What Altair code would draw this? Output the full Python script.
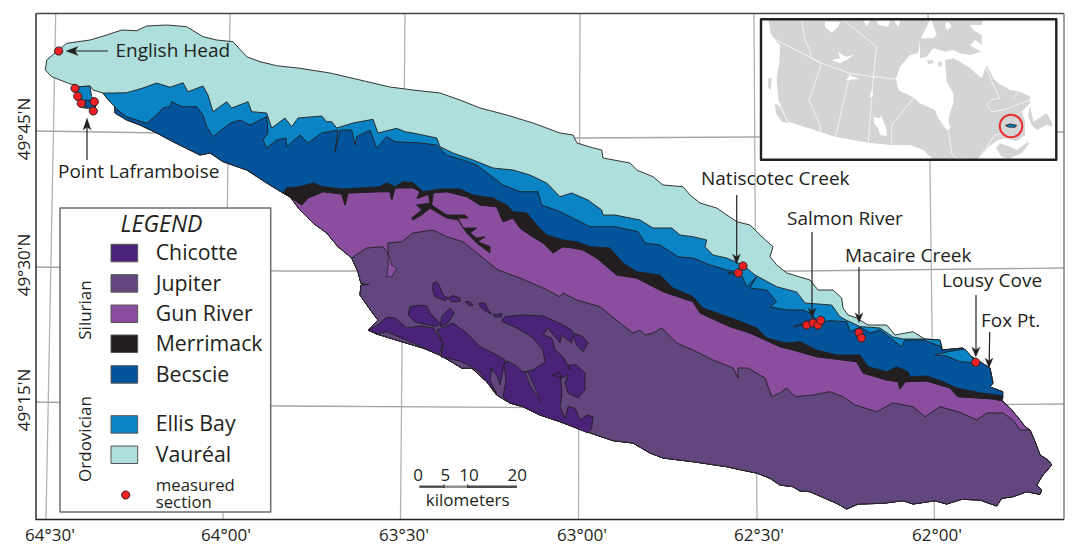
import altair as alt

FONT = "Open Sans"
INK = "#231f20"

# ---------- geology boundaries (map units) ----------
NORTH_COAST = [(45.3,70),(46.7,60),(55,53),(66.7,43.3),(90,40),(106.7,35),(121.7,30),(136.7,30.7),(146.7,26),(166.7,25),(186.7,26.7),(203,36.7),(216.7,40),(233,41.7),(246.7,56.7),(260,61.7),(276.7,65.7),(300,68.3),(330,73),(360,80),(390,87),(413,90),(440,93),(460,100),(480,108),(506.7,115),(533,123),(560,133),(573,135),(577,143),(590,147),(601.7,150),(603,158),(630,163),(636.7,170),(653,176.7),(663,185),(683,186.7),(690,195),(700,203),(716.7,208),(736.7,221.7),(750,225),(760,235),(773,246.7),(770,256.7),(776.7,265),(786.7,273),(810,280),(818,290),(833,290),(841.7,298),(843,308),(848,315),(856.7,318),(868,325),(886.7,325),(895,335),(913,331.7),(923,338)]
NE1 = [(925,339),(940,340),(941.7,347)]
NE2 = [(941.7,350),(963,348),(971.7,356.7),(990,368),(993,383),(990,387),(1002.7,391.7),(1002.7,398),(1001.7,400)]
SOUTH_1A = [(1010,408),(1020,420),(1025,426.7)]
SOUTH_1B = [(1030,430),(1035,441.7),(1040,455),(1048,460),(1051.7,465),(1043,475),(1036.7,485),(1041.7,490),(1040,494.3),(1026.7,491.7),(1013,496.7),(1001.7,498.3),(996.7,506),(980,500),(961.7,499.3),(946.7,504),(935,500.7),(913,504),(903,500.7),(883,503.3),(858,504),(846.7,509),(836.7,503.3),(825,498.3),(810,491.7),(800,491),(793,486.7),(780,485),(770,478.3),(756.7,473),(741.7,470),(726.7,466.7),(693,461.7),(663,458),(650,453),(633,443),(613,440.7),(586.7,431.7),(560,421.7),(540,415),(523,406.7),(510,403),(496.7,395),(486.7,381.7),(471.7,368),(461.7,368),(440,355),(423,348),(401.7,341.7),(376.7,334),(368,330),(378,320),(371.7,311.7),(360,295),(361,285),(369,284.5),(361,283.5),(358,271.7),(351.7,258)]
SOUTH_1C = [(338,246.7),(326.7,233),(313,223),(300,210),(290,196.7),(283,193)]
SOUTH_2 = [(266.7,183),(246.7,170),(223,161.7),(210,153),(200,155),(173,141.7),(156.7,133),(140,125),(126.7,120),(115,113),(115,107)]
SOUTH_3 = [(106.7,98),(103,93),(93,90),(90,86),(80,86.7),(68.3,83.3),(51.7,76.7)]

VAUREAL_ELLIS = [(103,93),(113,93),(126.7,92.7),(143,88),(156.7,83),(170,87.3),(183,82.7),(188,91.7),(203,86),(208,95),(213,111.7),(226.7,101.7),(231.7,108),(248,101.7),(251.7,111.7),(266.7,113),(271.7,128),(285,118),(291.7,126.7),(298,118),(321.7,116),(326.7,121.7),(331.7,121.7),(336.7,128),(353,123),(373,119.3),(378,133),(396.7,128.3),(405,131.7),(413,133),(436.7,138),(440,146.7),(453,153),(473,160),(493,168),(513,170),(530,175),(546.7,183),(560,196.7),(571.7,193),(588,200),(601.7,210),(603,215),(615,215),(640,220),(653,228),(671.7,228),(680,235),(693,236.7),(706.7,240),(705,246.7),(713,255),(726.7,258),(743,265),(755,275),(776.7,286.7),(796.7,292),(805,303),(831.7,305),(840,316.7),(846,320),(860,326.5),(880,328),(893,337),(903,339),(923,339)]
ELLIS_BECSCIE = [(115,108),(126.7,116.7),(146.7,123.3),(156.7,115),(163,108),(170,106.7),(171.7,101.7),(181.7,106.7),(196.7,106.7),(203,115),(206.7,126.7),(213,136.7),(230,123.3),(240,120),(250,125),(266.7,116.7),(268,133),(263,140),(266.7,148),(276.7,140),(286,138),(286.7,146.7),(300,135),(308,143),(321.7,133),(338,130),(335,151.7),(340,130),(351.7,130),(355,145),(356.7,136.7),(370,130),(376.7,148),(386.7,136.7),(395,141.7),(420,143),(436.7,145),(446.7,155),(463,160),(476.7,165),(490,175),(503,185),(520,191.7),(538,191.7),(541.7,205),(560,211.7),(573,218),(590,226.7),(615,226.7),(638,231.7),(645,243),(660,245),(678,256.7),(693,258),(710,265),(726.7,270),(740,272),(728,273),(742,276),(746.7,286.7),(756.7,276.7),(750,288),(766.7,290),(776.7,301.7),(770,306.7),(786.7,310),(803,310),(810,313),(816.7,320),(805,323),(793,326.7),(816,323),(830,320.7),(846.7,321.7),(850,331.7),(860,327),(870,333),(880,330),(893,340),(901.7,346.7),(905,340),(923,340),(941.7,346.7)]
MERRIMACK_TOP = [(283,193),(286.7,188),(300,186.7),(313,183),(323,186.7),(343,189),(380,186.7),(386.7,183),(395,186.7),(403,181.7),(413,182.7),(423,191.7),(440,189),(460,189),(473,195),(493,198),(506.7,205),(513,211.7),(526.7,213),(536.7,225),(546.7,235),(563,240),(576.7,241.7),(590,246.7),(610,248),(623,263),(636.7,271.7),(660,275),(673,288),(693,296.7),(703,308),(736.7,320),(756.7,328),(766.7,338),(786.7,343),(800,341.7),(816.7,350),(836.7,355),(860,355),(868,366.7),(886.7,371.7),(896.7,367),(908,371.7),(910,376.7),(926.7,376),(943,381.7),(956.7,388),(980,392.7),(1001.7,395.7)]
MERRIMACK_BASE = [(286.7,195),(301.7,205),(308,198),(323,191.7),(341.7,194),(345,205),(348,193),(380,191.7),(390,191.7),(391.7,200),(395,188),(413,187.7),(420,191.7),(417.3,198.3),(431.7,193),(446.7,191.7),(466.7,196.7),(480,205),(496.7,206.7),(503,221.7),(513,218),(520,228),(530,235),(543,243),(553,253),(563,246.7),(573,248),(583,250),(596.7,258),(616.7,275),(636.7,278),(663,291.7),(693,301.7),(700,313),(730,326.7),(750,333),(780,346.7),(793,350),(816.7,356.7),(856.7,361.7),(863,373),(886.7,380),(898,381.7),(900,389),(905,381.7),(926.7,381),(950,388),(958,396.7),(993,399),(1001.7,400.7)]
MERRIMACK_BRANCH = [(433.3,193.3),(431.7,205),(446.7,215),(465,215),(468,218),(458,218),(463,228),(476.7,228),(470,233),(476.7,238),(485,236.7),(478,241.7),(490,246.7),(490,253),(476.7,243),(466.7,233),(458,220),(446.7,218),(430,208.3),(421.7,215),(413,220),(411.7,218),(421.7,210),(416.7,205),(430,203),(428,193)]
JUPITER_TOP = [(351.7,258),(366.7,248),(383,246.7),(388,253),(388,243),(401.7,241.7),(413,233),(433,230),(446.7,236.7),(463,241.7),(483,258),(498,270),(520,278),(543,288),(560,296.7),(563,293),(576.7,300),(600,306.7),(620,323),(633,333),(640,330),(645,335),(653,333),(661.7,328),(676.7,343),(693,350),(713,360),(733,368),(738,378),(738,368),(748,368),(765,378),(771.7,396.7),(780,393),(786.7,388),(795,396.7),(813,395),(830,391.7),(843,396.7),(855,405),(876.7,411.7),(893,403),(913,406.7),(925,416.7),(940,406.7),(961.7,413),(976.7,420),(986.7,413),(1003,413),(1013,420),(1020,430)]
GUN_INLET = [(388,253),(391.7,265),(396.7,268.3),(391.7,276.7),(386.7,276.7),(388.3,265)]
ELLIS_EAST = [(935,355),(948,351.7),(965,349),(971.7,356.7),(976.7,363),(960,361.7),(946.7,356)]
ELLIS_POINT = [(75,88),(80,86.7),(90,86),(91.7,96.7),(96.7,103),(95,108),(83,108),(78,100)]
BECSCIE_POINT = [(85,100),(90,100),(96,105),(95,108),(86,108)]

CHICOTTE = [
 [(368,330),(378,325),(386.7,317.3),(395,318),(406.7,328),(420,326),(434,328),(435,331),(443,343),(439,355),(413.3,343),(386.7,331.7),(378,334)],
 [(436.7,330),(453,323),(466.7,333),(480,346.7),(493,353),(505,360),(502.7,371.7),(500,385),(497,376),(491.7,368.3),(490,380),(496.7,394),(486,381),(480,372),(472,367),(460,361),(441,357),(443,343)],
 [(501.7,320),(505,316.7),(523,315),(543,316),(560,323.3),(571.7,330),(573,333),(583,336.7),(588,343),(583,351.7),(576.7,345),(573,335),(571.7,343),(561.7,335),(560,343),(548,328),(543,335),(551.7,338),(555,350),(563,356.7),(570,370),(568,365),(576.7,365),(585,373),(585,390),(578,398),(568,393),(565,383),(568,375),(561.7,378),(551.7,375),(560,372),(561.7,386.7),(561.7,396.7),(560,406.7),(565,418),(568,406.7),(575,408),(580,420),(586.7,415),(593,416.7),(591.7,428),(588,433),(560,421.7),(540,415),(523,406.7),(510,403),(503,397),(506,380),(504,364),(506.7,361),(515,365),(523,372),(533,370),(545,362),(543,350),(533,338),(517,328),(503,322)],
 [(433,283),(436.7,281.7),(439,285),(443,295),(448,298),(445,300.7),(435,296.7),(432.7,290)],
 [(447.7,298),(453,295.7),(460,298),(460,301.7),(451.7,301.7)],
 [(465,301.7),(470,301.7),(473,305),(470,306)],
 [(479,303),(485,303),(488,310),(491.7,314),(486.7,311.7),(480,306.7)],
 [(493,315),(501.7,313.3),(501.7,316.7),(495,317.3)],
 [(410,306.7),(420,305),(426.7,306),(430,313),(440,323.3),(436.7,326.7),(423,324),(415,321.7),(408,315)],
 [(441.7,316.7),(450,308),(454,313),(448,323),(440,326.7)],
]
JUPITER_INLET = [(525,372),(530,385),(541,402),(535,388),(528,372)]

# ---------- graticule ----------
MERIDIANS = [[(55.7,14),(46,519)],[(230,14),(223,519)],[(405,14),(400.5,519)],[(580,14),(578.5,519)],[(754,14),(757,519)],[(928,14),(934.5,519)]]
PARALLELS = [[(36,131),(230,134),(580,138),(755,137),(1064,132)],[(36,267),(280,271),(800,271),(1064,268)],[(36,402),(280,406),(600,408),(1064,404)]]
FRAME_DARK = [[(36,13.5),(36,519.5),(1064,519.5)]]
FRAME_TOP = [[(36,13.5),(1064,13.5)]]
FRAME_RIGHT = [[(1064,13.5),(1064,519.5)]]

# ---------- legend ----------
LEGEND_BOX = [(60,208),(270.7,208),(270.7,512),(60,512)]
UNITS = ["Chicotte","Jupiter","Gun River","Merrimack","Becscie","Ellis Bay","Vauréal"]
UNIT_COLORS = ["#4a2378","#61477d","#8b4e9e","#231f20","#03549b","#0a84c4","#aedfdc"]
UNIT_TOPS = [244.3,274.7,305,335,365.7,415.7,446]
UNIT_BASE = [260,290.7,320.7,351,381.7,431,461.7]
SWATCH_W, SWATCH_H = 26.7, 17.5

# ---------- sections ----------
SECTION_X = [58.7,75,77.7,81.3,94.3,93.3,743,738.3,806.7,813,818,820.7,859,861.3,975.7,125.7]
SECTION_Y = [51,88.3,96.3,103.3,101.7,111,266,273,325,323,325,320.3,332.7,338,362.3,495]

ARROW_LINES = [[(108,51),(72,51)],[(87,160),(87,125)],[(736.7,195),(736.7,258)],[(812,232),(812,312)],[(859,267),(859,317)],[(976,295),(976,350)],[(989.7,332),(989.2,362)]]
ARROW_HEADS = [
 [(66,51),(78,46.5),(75,51),(78,55.5)],
 [(87,118),(91,130),(87,127),(83,130)],
 [(736.5,264),(732.5,254),(736.7,257),(740.5,254)],
 [(812.2,318),(808.2,308),(812,311),(816,308)],
 [(859,322.7),(855,312.7),(859,315.7),(863,312.7)],
 [(975.8,357),(971.8,347),(975.9,350),(980,347)],
 [(989,368),(985,358),(989,361),(993,358)],
]

SCALE_DARK = [[(419.3,486.7),(444,486.7)],[(468,486.7),(517,486.7)]]
SCALE_MID = [[(444,486.7),(468,486.7)]]
SCALE_TICKS = [[(444,484.5),(444,488)],[(467.7,484.5),(467.7,488)]]

# ---------- inset (in 3x-crop units; offset below) ----------
INSET_BOX = [(761,19.3),(1056.3,19.3),(1056.3,159.7),(761,159.7)]
def inset(pts):
    return [(p[0]/3+750, p[1]/3+10) for p in pts]
LAND = [
 [(55,30),(62,70),(75,90),(90,105),(88,160),(80,205),(85,270),(100,305),(115,335),(200,362),(255,380),(355,398),(420,405),(480,405),(520,420),(548,447),(685,447),(715,410),(745,390),(765,385),(800,393),(825,375),(825,335),(815,305),(825,295),(840,280),(840,260),(810,245),(780,240),(745,220),(730,205),(710,165),(695,205),(660,175),(630,155),(610,145),(585,150),(590,215),(610,250),(610,280),(595,325),(600,355),(590,360),(565,325),(555,300),(510,280),(490,262),(445,240),(438,205),(450,170),(480,135),(505,130),(510,90),(540,30)],
 [(545,30),(560,75),(550,85),(510,85),(510,145),(530,140),(550,115),(585,125),(610,120),(630,130),(660,135),(695,125),(675,115),(660,105),(675,90),(695,105),(695,75),(670,60),(660,45),(695,45),(700,30)],
 [(840,285),(850,335),(890,310),(905,335),(908,350),(890,345),(860,360),(845,345),(835,320)],
 [(750,400),(780,410),(800,420),(835,395),(820,385),(838,400),(815,430),(790,440),(775,447),(755,440),(738,415)],
 [(75,280),(90,290),(115,340),(95,335),(78,310)],
 [(55,205),(65,205),(62,240),(55,235)],
 [(530,152),(548,150),(550,160),(535,162)],
 [(565,155),(575,155),(575,170),(566,168)],
]
WATER = [
 [(245,150),(270,145),(265,125),(285,140),(310,135),(290,150),(270,160)],
 [(288,210),(300,197),(330,207)],
 [(370,320),(385,325),(395,318),(410,360),(410,378),(390,375),(385,355),(372,340)],
 [(358,260),(365,240),(370,255),(362,262)],
 [(225,35),(270,35),(265,50),(245,68),(225,50)],
 [(340,31),(360,31),(350,50)],
 [(380,31),(420,31),(415,50),(385,45)],
 [(430,31),(450,31),(445,50)],
 [(585,40),(595,35),(605,50),(590,60)],
]
BORDERS = [
 [(155,30),(165,90),(182,125),(183,145),(215,160)],
 [(70,85),(215,160),(300,190),(370,200),(438,207)],
 [(215,160),(177,270),(210,345),(212,365)],
 [(300,190),(257,380)],
 [(380,110),(370,200),(355,398)],
 [(280,30),(380,110)],
 [(490,265),(425,345),(425,405)],
 [(595,355),(605,430),(615,445),(650,445)],
 [(705,165),(735,235),(750,265),(725,270),(710,285),(725,305),(760,300),(840,270)],
 [(790,265),(810,240)],
 [(685,447),(735,375),(760,370)],
]
ANTICOSTI = [(767,346),(780,342),(800,346),(795,352),(775,351)]
RING_X, RING_Y = [1011], [126]

# ---------- labels ----------
CALLOUTS = ["English Head","Point Laframboise","Natiscotec Creek","Salmon River","Macaire Creek","Lousy Cove","Fox Pt."]
CALLOUT_X = [115.5,58,701,787,845,942,981]
CALLOUT_Y = [57,178.3,185,225,261.7,286.7,327.3]
LON_LABELS = ["64°30'","64°00'","63°30'","63°00'","62°30'","62°00'"]
LON_X = [50,226,404,582,759,937]
LON_Y = [541]*6
LAT_LABELS = ["49°45'N","49°30'N","49°15'N"]
LAT_X = [30,30,30]
LAT_Y = [129,265,400]
AGE_LABELS = ["Silurian","Ordovician"]
AGE_X = [91,91]
AGE_Y = [310,439]
SCALE_LABELS = ["0","5","10","20"]
SCALE_X = [418,445.3,469,517.3]
SCALE_Y = [480.7]*4


def feat(kind, coords):
    return {"type": "Feature", "properties": {}, "geometry": {"type": kind, "coordinates": coords}}

def polys(rings, fill, stroke=INK, sw=0.9):
    vals = [feat("Polygon", [[list(p) for p in r] + [list(r[0])]]) for r in rings]
    return alt.Chart(alt.Data(values=vals)).mark_geoshape(fill=fill, stroke=stroke, strokeWidth=sw, strokeJoin="round")

def lines(paths, stroke, sw):
    vals = [feat("LineString", [list(p) for p in r]) for r in paths]
    return alt.Chart(alt.Data(values=vals)).mark_geoshape(filled=False, fill="transparent", stroke=stroke, strokeWidth=sw)

def text(labels, xs, ys, size, align="left", angle=0, style="normal"):
    rows = [{"t": t, "x": x, "y": y} for t, x, y in zip(labels, xs, ys)]
    return alt.Chart(alt.Data(values=rows)).mark_text(
        font=FONT, fontSize=size, align=align, baseline="alphabetic", angle=angle, fontStyle=style, color=INK
    ).encode(longitude="x:Q", latitude="y:Q", text="t:N")

def rect_ring(x, y, w, h):
    return [(x, y), (x + w, y), (x + w, y + h), (x, y + h)]

layers = [
    lines(MERIDIANS, "#b3b3b3", 1.3),
    lines(PARALLELS, "#a6a6a6", 1.3),
    lines(FRAME_TOP, "#444444", 1.3),
    lines(FRAME_RIGHT, "#808080", 1.5),
    lines(FRAME_DARK, "#222222", 1.4),
    polys([NORTH_COAST + NE1 + NE2 + SOUTH_1A + SOUTH_1B + SOUTH_1C + SOUTH_2 + SOUTH_3], "#aedfdc"),
    polys([VAUREAL_ELLIS + NE1 + NE2 + SOUTH_1A + SOUTH_1B + SOUTH_1C + SOUTH_2 + SOUTH_3[:2], ELLIS_POINT], "#0a84c4"),
    polys([ELLIS_BECSCIE + NE2 + SOUTH_1A + SOUTH_1B + SOUTH_1C + SOUTH_2, BECSCIE_POINT], "#03549b"),
    polys([ELLIS_EAST], "#0a84c4"),
    polys([MERRIMACK_BASE + SOUTH_1A + SOUTH_1B + SOUTH_1C], "#8b4e9e"),
    polys([MERRIMACK_TOP + MERRIMACK_BASE[::-1], MERRIMACK_BRANCH], INK),
    polys([JUPITER_TOP + SOUTH_1B], "#61477d"),
    polys([GUN_INLET], "#8b4e9e", sw=0.7),
    polys(CHICOTTE, "#4a2378"),
    polys([JUPITER_INLET], "#61477d", sw=0.7),
    polys([LEGEND_BOX], "#ffffff", "#6d6d6d", 1.5),
]
for i, c in enumerate(UNIT_COLORS):
    layers.append(polys([rect_ring(111, UNIT_TOPS[i], SWATCH_W, SWATCH_H)], c, "#555555", 1.0))
layers += [
    polys([INSET_BOX], "#ffffff", "none", 0),
    polys([inset(r) for r in LAND], "#d4d4d4", "none", 0),
    polys([inset(r) for r in WATER], "#ffffff", "none", 0),
    lines([inset(r) for r in BORDERS], "#ffffff", 0.7),
    polys([inset(ANTICOSTI)], "#0a84c4", INK, 0.9),
    alt.Chart(alt.Data(values=[{"x": RING_X[0], "y": RING_Y[0]}])).mark_point(
        size=510, filled=False, stroke="#e8302f", strokeWidth=2, opacity=1
    ).encode(longitude="x:Q", latitude="y:Q"),
    polys([INSET_BOX], "transparent", "#231f20", 2.4),
    lines(ARROW_LINES, INK, 1.2),
    polys(ARROW_HEADS, INK, INK, 0.3),
    alt.Chart(alt.Data(values=[{"x": x, "y": y} for x, y in zip(SECTION_X, SECTION_Y)])).mark_circle(
        size=68, color="#ed2024", stroke=INK, strokeWidth=0.9, opacity=1
    ).encode(longitude="x:Q", latitude="y:Q"),
    lines(SCALE_DARK, "#4d4d4d", 2.4),
    lines(SCALE_MID, "#8c8c8c", 2.4),
    lines(SCALE_TICKS, INK, 1.0),
    text(CALLOUTS, CALLOUT_X, CALLOUT_Y, 19),
    text(["LEGEND"], [161.5], [231.7], 23, "center", style="italic"),
    text(UNITS, [155.7] * 7, UNIT_BASE, 21.3),
    text(["measured"], [155.7], [490.5], 16.8),
    text(["section"], [155.7], [508], 16.8),
    text(AGE_LABELS, AGE_X, AGE_Y, 17, "center", 270),
    text(LON_LABELS, LON_X, LON_Y, 17, "center"),
    text(LAT_LABELS, LAT_X, LAT_Y, 17, "center", 270),
    text(SCALE_LABELS, SCALE_X, SCALE_Y, 17, "center"),
    text(["kilometers"], [467.7], [505.7], 17, "center"),
]

chart = alt.layer(*layers).project(type="identity", scale=1, translate=[-8, -8]).properties(
    width=1065, height=538, padding=0, autosize=alt.AutoSizeParams(type="none"), background="white"
).configure_view(stroke=None)

chart.save("out.html", embed_options={"renderer": "svg", "actions": False})
